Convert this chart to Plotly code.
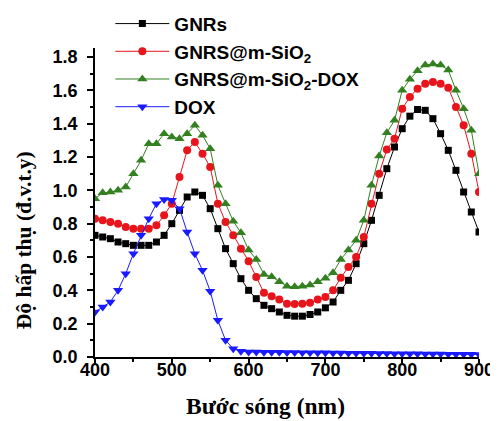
import plotly.graph_objects as go

wavelength = list(range(400, 901, 10))

gnrs = [0.73, 0.72, 0.71, 0.69, 0.68, 0.67, 0.67, 0.67, 0.69, 0.73,
        0.80, 0.88, 0.96, 0.99, 0.97, 0.89, 0.77, 0.65, 0.56, 0.47,
        0.40, 0.35, 0.31, 0.29, 0.27, 0.25, 0.245, 0.245, 0.255, 0.27,
        0.295, 0.33, 0.40, 0.46, 0.56, 0.68, 0.82, 0.97, 1.13, 1.26,
        1.37, 1.445, 1.485, 1.48, 1.43, 1.34, 1.24, 1.12, 0.99, 0.87,
        0.75]

gnrs_sio2 = [0.83, 0.82, 0.81, 0.80, 0.78, 0.77, 0.77, 0.77, 0.79, 0.85,
             0.92, 1.08, 1.24, 1.29, 1.22, 1.14, 0.92, 0.81, 0.73, 0.65,
             0.575, 0.48, 0.385, 0.365, 0.345, 0.32, 0.318, 0.32, 0.326, 0.345,
             0.36, 0.40, 0.475, 0.54, 0.60, 0.72, 0.92, 1.10, 1.245, 1.31,
             1.49, 1.56, 1.61, 1.64, 1.65, 1.64, 1.615, 1.50, 1.39, 1.22,
             0.99]

gnrs_sio2_dox = [0.95, 0.985, 0.99, 1.00, 1.02, 1.10, 1.18, 1.28, 1.28, 1.34,
                 1.32, 1.31, 1.34, 1.39, 1.33, 1.25, 1.03, 0.92, 0.815, 0.746,
                 0.642, 0.585, 0.495, 0.482, 0.452, 0.424, 0.422, 0.425, 0.432, 0.452,
                 0.472, 0.505, 0.585, 0.642, 0.70, 0.82, 1.03, 1.206, 1.346, 1.42,
                 1.60, 1.666, 1.718, 1.752, 1.758, 1.752, 1.722, 1.60, 1.49, 1.36,
                 1.10]

dox = [0.27, 0.30, 0.33, 0.40, 0.50, 0.62, 0.73, 0.83, 0.92, 0.945,
       0.94, 0.89, 0.75, 0.62, 0.52, 0.395, 0.22, 0.10, 0.05, 0.035,
       0.030, 0.030, 0.029, 0.028, 0.028, 0.027, 0.027, 0.026, 0.026, 0.025,
       0.025, 0.024, 0.024, 0.023, 0.023, 0.022, 0.022, 0.021, 0.021, 0.020,
       0.020, 0.019, 0.019, 0.018, 0.018, 0.018, 0.017, 0.017, 0.016, 0.016,
       0.015]

x_ticks = [400, 500, 600, 700, 800, 900]
y_ticks = [0.0, 0.2, 0.4, 0.6, 0.8, 1.0, 1.2, 1.4, 1.6, 1.8]

series = [
    ("GNRs", gnrs, "black", "square", 7),
    ("GNRS@m-SiO<sub>2</sub>", gnrs_sio2, "#e8141c", "circle", 8),
    ("GNRS@m-SiO<sub>2</sub>-DOX", gnrs_sio2_dox, "#338020", "triangle-up", 9),
    ("DOX", dox, "#1a1aff", "triangle-down", 9),
]

fig = go.Figure()
for name, vals, color, sym, size in series:
    fig.add_trace(go.Scatter(
        x=wavelength, y=vals, name=name, mode="lines+markers",
        line=dict(color=color, width=1),
        marker=dict(color=color, symbol=sym, size=size, line=dict(width=0)),
    ))

tick_font = dict(family="Liberation Sans, Arial", size=18, color="black", weight="bold")
title_font = dict(family="Liberation Serif, Times New Roman", size=21.5, color="black", weight="bold")

fig.update_layout(
    width=490, height=413,
    margin=dict(l=87, r=19, t=40, b=64, autoexpand=False),
    paper_bgcolor="white", plot_bgcolor="white",
    showlegend=True,
    legend=dict(
        x=0.04, y=1.14, xanchor="left", yanchor="top",
        font=dict(family="Liberation Sans, Arial", size=19, color="black", weight="bold"),
        bgcolor="rgba(0,0,0,0)", itemwidth=54, tracegroupgap=0,
    ),
    xaxis=dict(
        range=[400, 900], showline=True, linecolor="black", linewidth=1.5,
        ticks="outside", tickcolor="black", ticklen=5, tickwidth=1.5,
        tickvals=x_ticks, ticktext=[str(v) for v in x_ticks],
        tickfont=tick_font, ticklabelstandoff=-9,
        minor=dict(ticks="outside", ticklen=3, tickwidth=1.5, tickcolor="black", dtick=50, tick0=400),
        showgrid=False, zeroline=False, automargin=False,
    ),
    yaxis=dict(
        range=[0, 1.854], showline=True, linecolor="black", linewidth=1.5,
        ticks="outside", tickcolor="black", ticklen=6, tickwidth=1.5,
        tickvals=y_ticks, ticktext=[f"{v:.1f}" for v in y_ticks],
        tickfont=tick_font, ticklabelstandoff=6,
        minor=dict(ticks="outside", ticklen=3, tickwidth=1.5, tickcolor="black", dtick=0.1, tick0=0),
        showgrid=False, zeroline=False, automargin=False,
    ),
    annotations=[
        dict(text="Độ hấp thụ (đ.v.t.y)", textangle=-90,
             xref="paper", yref="paper", x=-0.184, y=0.379,
             xanchor="center", yanchor="middle", showarrow=False, font=title_font),
        dict(text="Bước sóng (nm)",
             xref="paper", yref="paper", x=0.445, y=-0.158,
             xanchor="center", yanchor="middle", showarrow=False,
             font=dict(title_font, size=23.5)),
    ],
)

fig.write_html("out.html")
